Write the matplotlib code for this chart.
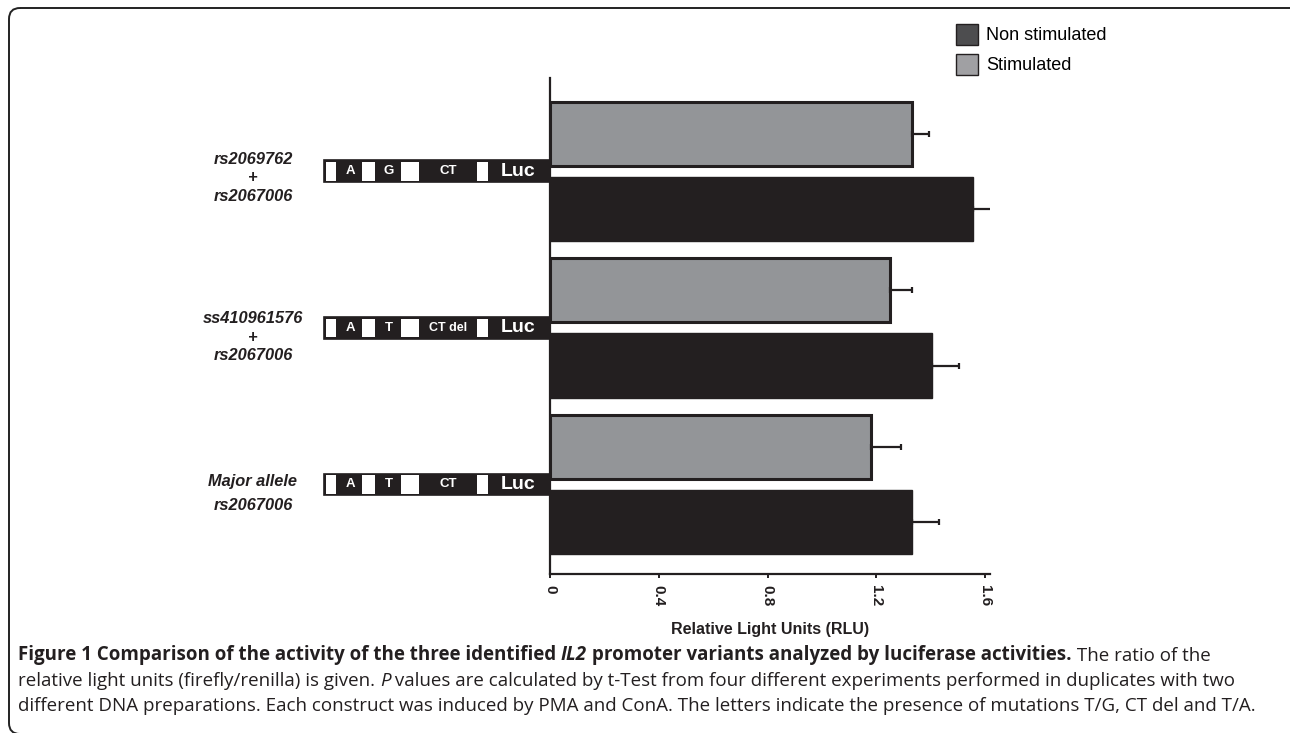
import matplotlib
matplotlib.use('Agg')
import matplotlib.pyplot as plt
from matplotlib.patches import Rectangle, Patch, FancyBboxPatch

# data (bottom -> top)
groups = ['Major allele\nrs2067006', 'ss410961576\n+\nrs2067006', 'rs2069762\n+\nrs2067006']
stim = [1.18, 1.25, 1.33]
stim_err = [0.11, 0.08, 0.065]
nonstim = [1.33, 1.405, 1.555]
nonstim_err = [0.10, 0.10, 0.11]
site1 = ['A', 'A', 'A']
site2 = ['T', 'T', 'G']
site3 = ['CT', 'CT del', 'CT']
xticks = [0, 0.4, 0.8, 1.2, 1.6]

W, H = 1290, 733
fig = plt.figure(figsize=(W / 100, H / 100), dpi=100)
plt.rcParams['font.family'] = ['Liberation Sans', 'DejaVu Sans']


def fx(px):
    return px / W


def fy(py):
    return 1 - py / H


# rounded frame round the whole figure
bg = fig.add_axes([0, 0, 1, 1])
bg.set_xlim(0, W)
bg.set_ylim(H, 0)
bg.axis('off')
bg.add_patch(FancyBboxPatch((9, 8), 1300, 726, boxstyle='round,pad=0,rounding_size=11',
                            fill=False, ec='#222222', lw=1.4, clip_on=False))

ax = fig.add_axes([fx(550), fy(574), 440 / W, (574 - 78) / H])
ylim = (-0.572, 2.597)
y = list(range(len(groups)))
off = 0.24
bh = 0.41

ax.barh([v + off for v in y], stim, height=bh, color='#939598', edgecolor='#231f20', linewidth=2.2)
ax.barh([v - off for v in y], nonstim, height=bh, color='#231f20', edgecolor='#231f20', linewidth=1)
ax.errorbar(stim, [v + off for v in y], xerr=[[0] * 3, stim_err], fmt='none', ecolor='#231f20',
            elinewidth=1.6, capsize=2.5, capthick=1.6)
ax.errorbar(nonstim, [v - off for v in y], xerr=[[0] * 3, nonstim_err], fmt='none', ecolor='#231f20',
            elinewidth=1.6, capsize=2.5, capthick=1.6)

ax.set_xlim(0, 1.6 * 440 / 435)
ax.set_ylim(*ylim)
ax.set_xticks(xticks)
ax.set_xticklabels([('%g' % t) for t in xticks], rotation=-90, fontsize=11, fontweight='bold', color='#231f20')
ax.set_yticks([])
ax.tick_params(axis='x', length=3, width=1.4, pad=5, color='#231f20')
for s in ['top', 'right']:
    ax.spines[s].set_visible(False)
for s in ['left', 'bottom']:
    ax.spines[s].set_linewidth(1.6)
    ax.spines[s].set_color('#231f20')
ax.set_xlabel('Relative Light Units (RLU)', fontsize=11.5, fontweight='bold', color='#231f20', labelpad=11)

# construct diagrams
cx = fig.add_axes([fx(322), fy(574), 228 / W, (574 - 78) / H])
cx.set_xlim(0, 228)
cx.set_ylim(*ylim)
cx.axis('off')
ch = 0.14
white_boxes = [(4, 10), (40, 13), (79, 18), (155, 11)]
for i in y:
    cx.add_patch(Rectangle((2, i - ch / 2), 226, ch, fc='#231f20', ec='#231f20', lw=1.2, clip_on=False))
    for x0, w in white_boxes:
        cx.add_patch(Rectangle((x0, i - ch / 2 + 0.012), w, ch - 0.024, fc='white', ec='none', clip_on=False))
    cx.text(28, i, site1[i], color='white', fontsize=9.5, fontweight='bold', ha='center', va='center')
    cx.text(67, i, site2[i], color='white', fontsize=9.5, fontweight='bold', ha='center', va='center')
    cx.text(126, i, site3[i], color='white', fontsize=9.5 if site3[i] == 'CT' else 9,
            fontweight='bold', ha='center', va='center')
    cx.text(196, i, 'Luc', color='white', fontsize=14, fontweight='bold', ha='center', va='center')
    cx.text(-69, i - (0.04 if i == 2 else 0.06), groups[i], fontsize=11.8, fontweight='bold', style='italic',
            ha='center', va='center', color='#231f20', linespacing=1.3 if '+' in groups[i] else 1.75,
            clip_on=False)

# legend
handles = [Patch(fc='#4d4d4f', ec='#231f20', lw=1), Patch(fc='#a0a0a3', ec='#231f20', lw=1)]
fig.legend(handles, ['Non stimulated', 'Stimulated'], loc='upper left',
           bbox_to_anchor=(fx(956), fy(24)), frameon=False, fontsize=13,
           handlelength=1.2, handleheight=1.4, handletextpad=0.45, labelspacing=0.5,
           borderaxespad=0, borderpad=0)

# caption
cap = dict(fontsize=13.5, color='#231f20', family=['Open Sans', 'DejaVu Sans'])
lines = [
    [('Figure 1 Comparison of the activity of the three identified ', 'bold', 'normal'),
     ('IL2', 'bold', 'italic'),
     (' promoter variants analyzed by luciferase activities.', 'bold', 'normal'),
     (' The ratio of the', 'normal', 'normal')],
    [('relative light units (firefly/renilla) is given. ', 'normal', 'normal'),
     ('P', 'normal', 'italic'),
     (' values are calculated by t-Test from four different experiments performed in duplicates with two',
      'normal', 'normal')],
    [('different DNA preparations. Each construct was induced by PMA and ConA. The letters indicate the '
      'presence of mutations T/G, CT del and T/A.', 'normal', 'normal')],
]
line_y = [655, 681, 706]
for ly, parts in zip(line_y, lines):
    prev = None
    for txt, wt, st in parts:
        if prev is None:
            prev = bg.text(18, ly, txt, fontweight=wt, style=st, ha='left', va='center', **cap)
        else:
            prev = bg.annotate(txt, xy=(1, 0), xycoords=prev, fontweight=wt, style=st,
                               ha='left', va='bottom', annotation_clip=False, **cap)

fig.savefig('out.png', dpi=100)
